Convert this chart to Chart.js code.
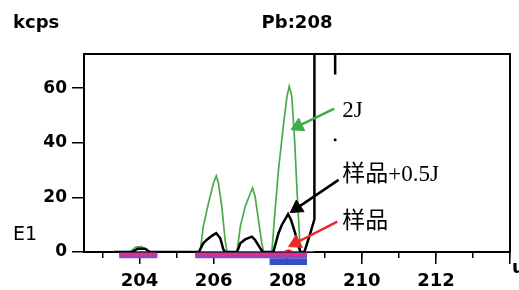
<!DOCTYPE html>
<html><head><meta charset="utf-8">
<script src="https://cdn.jsdelivr.net/npm/chart.js@4"></script>
<style>html,body{margin:0;padding:0;background:#fff}</style>
</head><body>
<canvas id="c" width="519" height="290"></canvas>
<script>
// ---- data (mass u, intensity kcps) ----
const greenX = [203.3,203.74,203.9,204.05,204.2,204.26,205.635,205.72,205.86,205.995,206.07,206.13,206.22,206.31,206.36,206.63,206.72,206.85,206.99,207.05,207.12,207.21,207.30,207.35,207.57,207.66,207.75,207.89,207.98,208.04,208.11,208.18,208.25,208.34,208.45];
const greenY = [0,0,1.8,2.0,0.6,0,0,9.3,17.9,25.2,27.9,25.2,16.6,4.4,0,0,9.3,16.6,21.5,23.4,20.3,11.7,3.2,0,0,15.4,30.1,47.2,57.0,60.7,57.0,42.3,22.8,0,0];
const blackX = [203.3,203.8,203.95,204.15,204.28,205.6,205.72,205.81,205.95,206.07,206.18,206.26,206.31,206.63,206.72,206.85,207.03,207.12,207.26,207.32,207.61,207.75,207.84,208.01,208.09,208.20,208.34,208.45,208.61,208.72,208.72];
const blackY = [0,0,1.2,1.2,0,0,3.2,4.4,5.9,6.9,5.0,1.0,0,0,3.2,4.6,5.6,4.4,1.3,0,0,6.9,9.9,13.9,11.7,6.9,0,0,6.9,12,300];
const redX = [203.3,205.6,207.9,208.02,208.15,208.72];
const redY = [0,0,0,0.6,0,0];
const purpleFrom = [203.45,205.5];
const purpleTo = [204.48,208.52];
const blueFrom = [207.51];
const blueTo = [208.52];
const yTicks = [0,20,40,60];
const xTickLabels = ['204','206','208','210','212'];
const seriesNames = ['2J','样品+0.5J','样品'];

// ---- annotations (data coordinates) ----
const arrows = [
  {from:[209.257,52.48], head:[208.281,46.06], rot:244, color:'#3cae48'},
  {from:[209.373,26.42], head:[208.246,16.07], rot:236, color:'#000000'},
  {from:[209.338,11.12], head:[208.214,3.30], rot:243, color:'#ec2a24'}
];
const notes = [
  {text:seriesNames[0], x:209.473, y:49.5},
  {text:seriesNames[1], x:209.473, y:25.9},
  {text:seriesNames[2], x:209.473, y:8.8}
];

const pts = (xs, ys) => xs.map((x,i)=>({x, y:ys[i]}));
const datasets = [];
arrows.forEach(a=>{
  datasets.push({data:[{x:a.from[0],y:a.from[1]},{x:a.head[0],y:a.head[1]}], borderColor:a.color, borderWidth:2.5,
    pointStyle:'triangle', pointRadius:[0,8], pointRotation:[0,a.rot], pointBackgroundColor:a.color, pointBorderColor:a.color,
    pointBorderWidth:1, clip:false, order:0});
});
datasets.push({label:seriesNames[1], data:pts(blackX,blackY), borderColor:'#000', borderWidth:2.5, pointRadius:0, order:1});
datasets.push({label:seriesNames[0], data:pts(greenX,greenY), borderColor:'#4aab4a', borderWidth:1.7, pointRadius:0, order:2});
datasets.push({label:seriesNames[2], data:pts(redX,redY), borderColor:'#e02020', borderWidth:2, pointRadius:0, order:3});
purpleFrom.forEach((f,i)=>{
  datasets.push({data:[{x:f,y:-1.25},{x:purpleTo[i],y:-1.25}], borderColor:'#9846b4', borderWidth:5.8, borderCapStyle:'butt', pointRadius:0, clip:false, order:5});
  datasets.push({data:[{x:f,y:-0.84},{x:purpleTo[i],y:-0.84}], borderColor:'#e0308c', borderWidth:2, borderCapStyle:'butt', pointRadius:0, clip:false, order:4});
});
blueFrom.forEach((f,i)=>{
  datasets.push({data:[{x:f,y:-3.52},{x:blueTo[i],y:-3.52}], borderColor:'#3050c4', borderWidth:6.7, borderCapStyle:'butt', pointRadius:0, clip:false, order:5});
});
// cursor marks near the top
datasets.push({data:[{x:209.28,y:72.5},{x:209.28,y:65}], borderColor:'#000', borderWidth:2.5, pointRadius:0, order:1});
datasets.push({data:[{x:209.28,y:41.1}], showLine:false, pointRadius:1.5, pointBackgroundColor:'#000', pointBorderWidth:0, order:1});

const textPlugin = {
  id:'texts',
  afterDraw(chart){
    const ctx = chart.ctx, a = chart.chartArea, xs = chart.scales.x, ys = chart.scales.y;
    ctx.save();
    ctx.strokeStyle = '#000'; ctx.lineWidth = 2;
    ctx.beginPath(); ctx.moveTo(a.left, a.top); ctx.lineTo(a.right, a.top); ctx.lineTo(a.right, a.bottom); ctx.stroke();
    ctx.fillStyle = '#000';
    ctx.textBaseline = 'alphabetic'; ctx.textAlign = 'left';
    ctx.font = 'bold 18px "DejaVu Sans"';
    ctx.fillText('kcps', 13, 28);
    ctx.textAlign = 'center';
    ctx.fillText('Pb:208', (a.left+a.right)/2, 28);
    ctx.textAlign = 'left';
    ctx.font = '19px "DejaVu Sans"';
    ctx.fillText('E1', 13, 240);
    ctx.font = 'bold 18px "DejaVu Sans"';
    ctx.fillText('u', 512, 273);
    ctx.font = '23px "Liberation Serif", "Noto Sans CJK SC"';
    notes.forEach(n=>ctx.fillText(n.text, xs.getPixelForValue(n.x), ys.getPixelForValue(n.y)));
    ctx.restore();
  }
};

new Chart(document.getElementById('c'), {
  type:'line',
  data:{datasets},
  options:{
    responsive:false, animation:false, events:[],
    layout:{padding:{top:54, right:8, left:0, bottom:0}},
    plugins:{legend:{display:false}, tooltip:{enabled:false}},
    elements:{line:{tension:0}},
    scales:{
      xMinor:{type:'linear', position:'bottom', min:202.5, max:214, weight:0,
        afterFit(s){ s.height = 0; },
        grid:{display:true, drawOnChartArea:false, drawTicks:true, tickLength:6, color:'#000', lineWidth:1.5},
        border:{display:false},
        ticks:{stepSize:1, includeBounds:false, autoSkip:false, display:true, callback:()=>''}
      },
      x:{type:'linear', position:'bottom', min:202.5, max:214, weight:1,
        afterFit(s){ s.height = 38; },
        grid:{display:true, drawOnChartArea:false, drawTicks:true, tickLength:12, color:'#000', lineWidth:1.5},
        border:{display:true, color:'#000', width:2},
        ticks:{stepSize:2, includeBounds:false, autoSkip:false, maxRotation:0, padding:7, color:'#000',
          font:{family:'DejaVu Sans', size:18, weight:'bold'},
          callback:(v)=> xTickLabels.includes(String(v)) ? String(v) : ''}
      },
      y:{type:'linear', min:0, max:72.5,
        afterFit(s){ s.width = 84; },
        grid:{display:true, drawOnChartArea:false, drawTicks:true, tickLength:12, color:'#000', lineWidth:1.5},
        border:{display:true, color:'#000', width:2},
        ticks:{stepSize:20, includeBounds:false, padding:5, color:'#000',
          font:{family:'DejaVu Sans', size:17, weight:'bold'},
          callback:(v)=> yTicks.includes(v) ? String(v) : ''}
      }
    }
  },
  plugins:[textPlugin]
});
</script>
</body></html>
